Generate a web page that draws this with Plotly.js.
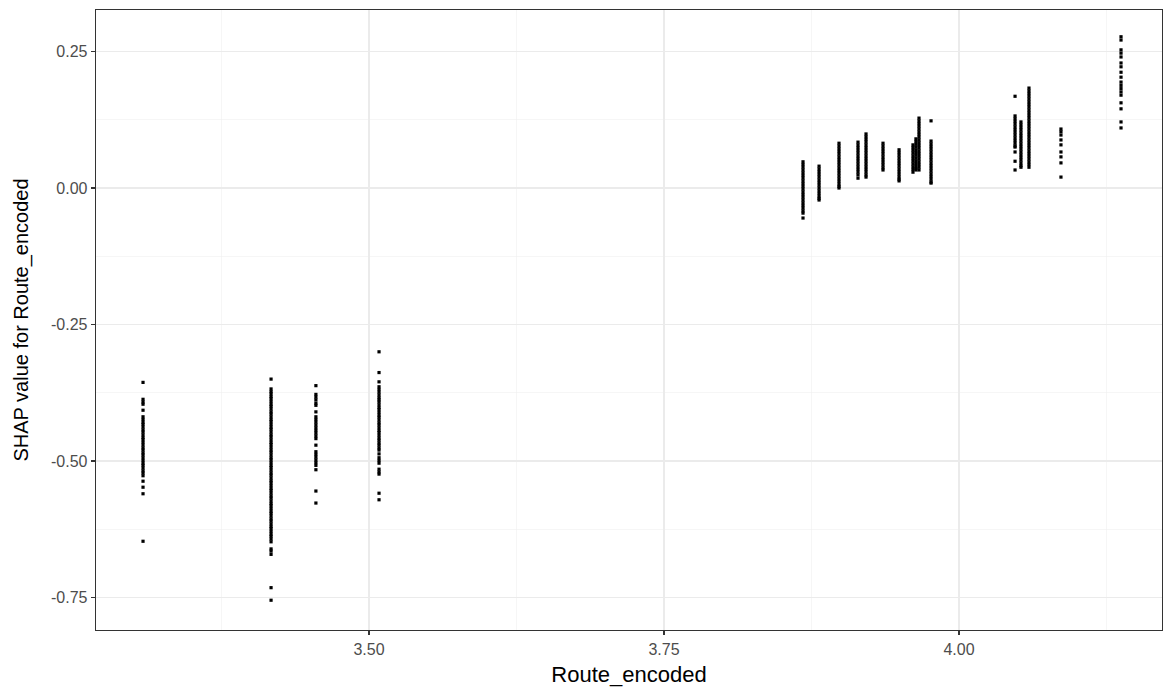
<!DOCTYPE html>
<html>
<head>
<meta charset="utf-8">
<script src="https://cdn.plot.ly/plotly-3.0.1.min.js"></script>
<style>
  html, body { margin: 0; padding: 0; background: #ffffff; }
  #chart { width: 1163px; height: 691px; }
</style>
</head>
<body>
<div id="chart"></div>
<script>
// Encoded route levels (one column of SHAP values per level)
const routeLevels = [3.3085, 3.417, 3.455, 3.5085, 3.8678, 3.8814, 3.8983, 3.9144, 3.9212,
  3.9356, 3.9492, 3.961, 3.9635, 3.9661, 3.9763, 4.0475, 4.0525, 4.0593, 4.0864, 4.1373];

// SHAP values for Route_encoded at each level
const shap3308 = [-0.356, -0.387, -0.392, -0.396, -0.407, -0.419, -0.424, -0.429, -0.433, -0.438,
  -0.443, -0.447, -0.452, -0.457, -0.461, -0.466, -0.471, -0.476, -0.480, -0.485, -0.489, -0.494,
  -0.499, -0.504, -0.508, -0.513, -0.518, -0.522, -0.527, -0.537, -0.548, -0.560, -0.647];
const shap3417 = [-0.350, -0.368, -0.373, -0.377, -0.382, -0.386, -0.391, -0.396, -0.400, -0.405,
  -0.410, -0.414, -0.419, -0.424, -0.428, -0.433, -0.438, -0.442, -0.447, -0.452, -0.456, -0.461,
  -0.466, -0.470, -0.475, -0.480, -0.484, -0.489, -0.494, -0.498, -0.503, -0.508, -0.512, -0.517,
  -0.522, -0.526, -0.531, -0.536, -0.540, -0.545, -0.550, -0.554, -0.559, -0.564, -0.568, -0.573,
  -0.578, -0.582, -0.587, -0.592, -0.596, -0.601, -0.606, -0.610, -0.615, -0.620, -0.624, -0.629,
  -0.634, -0.638, -0.643, -0.648, -0.661, -0.665, -0.671, -0.732, -0.755];
const shap3455 = [-0.362, -0.378, -0.383, -0.388, -0.394, -0.398, -0.410, -0.419, -0.424, -0.429,
  -0.434, -0.439, -0.444, -0.449, -0.454, -0.459, -0.471, -0.483, -0.488, -0.493, -0.498, -0.503,
  -0.508, -0.516, -0.555, -0.577];
const shap3508 = [-0.300, -0.338, -0.355, -0.364, -0.369, -0.374, -0.379, -0.384, -0.388, -0.392,
  -0.397, -0.402, -0.406, -0.411, -0.416, -0.420, -0.425, -0.430, -0.434, -0.439, -0.444, -0.448,
  -0.453, -0.458, -0.462, -0.467, -0.471, -0.476, -0.480, -0.487, -0.494, -0.499, -0.504, -0.515,
  -0.520, -0.524, -0.559, -0.571];
const shap3868 = [0.048, 0.043, 0.038, 0.033, 0.028, 0.023, 0.018, 0.013, 0.008, 0.003, -0.002,
  -0.007, -0.012, -0.017, -0.022, -0.027, -0.032, -0.037, -0.042, -0.046, -0.055];
const shap3881 = [0.040, 0.035, 0.030, 0.025, 0.020, 0.015, 0.010, 0.005, 0.000, -0.005, -0.010,
  -0.015, -0.019, -0.022];
const shap3898 = [0.082, 0.077, 0.072, 0.067, 0.062, 0.057, 0.052, 0.047, 0.042, 0.037, 0.032,
  0.027, 0.022, 0.017, 0.012, 0.007, 0.003, 0.000];
const shap3914 = [0.084, 0.079, 0.074, 0.069, 0.064, 0.059, 0.054, 0.049, 0.044, 0.039, 0.034,
  0.029, 0.024, 0.018];
const shap3921 = [0.099, 0.094, 0.089, 0.084, 0.079, 0.074, 0.069, 0.064, 0.059, 0.054, 0.049,
  0.044, 0.039, 0.034, 0.029, 0.024, 0.020];
const shap3936 = [0.082, 0.077, 0.072, 0.067, 0.062, 0.057, 0.052, 0.047, 0.042, 0.037, 0.033];
const shap3949 = [0.070, 0.065, 0.060, 0.055, 0.050, 0.045, 0.040, 0.035, 0.030, 0.025, 0.020,
  0.016, 0.013];
const shap3961 = [0.079, 0.074, 0.069, 0.064, 0.059, 0.054, 0.049, 0.044, 0.039, 0.034, 0.029];
const shap3964 = [0.090, 0.085, 0.080, 0.075, 0.070, 0.065, 0.060, 0.055, 0.050, 0.045, 0.040,
  0.036, 0.033];
const shap3966 = [0.128, 0.123, 0.118, 0.113, 0.108, 0.103, 0.098, 0.093, 0.088, 0.083, 0.078,
  0.073, 0.068, 0.063, 0.058, 0.053, 0.048, 0.043, 0.038, 0.033];
const shap3976 = [0.123, 0.086, 0.081, 0.076, 0.071, 0.066, 0.061, 0.056, 0.051, 0.046, 0.041,
  0.036, 0.031, 0.026, 0.021, 0.016, 0.011, 0.009];
const shap4048 = [0.168, 0.132, 0.127, 0.122, 0.117, 0.112, 0.107, 0.102, 0.097, 0.092, 0.087,
  0.082, 0.077, 0.075, 0.066, 0.049, 0.033];
const shap4053 = [0.121, 0.116, 0.111, 0.106, 0.101, 0.096, 0.091, 0.086, 0.081, 0.076, 0.071,
  0.066, 0.061, 0.056, 0.051, 0.046, 0.041, 0.038];
const shap4059 = [0.183, 0.178, 0.173, 0.168, 0.163, 0.158, 0.153, 0.148, 0.143, 0.138, 0.133,
  0.128, 0.123, 0.118, 0.113, 0.108, 0.103, 0.098, 0.093, 0.088, 0.083, 0.078, 0.073, 0.068,
  0.063, 0.058, 0.053, 0.048, 0.043, 0.038];
const shap4086 = [0.108, 0.103, 0.097, 0.088, 0.079, 0.066, 0.057, 0.046, 0.020];
const shap4137 = [0.277, 0.271, 0.253, 0.247, 0.240, 0.229, 0.222, 0.212, 0.203, 0.194, 0.188,
  0.182, 0.176, 0.170, 0.156, 0.145, 0.121, 0.110];

const shapColumns = [shap3308, shap3417, shap3455, shap3508, shap3868, shap3881, shap3898,
  shap3914, shap3921, shap3936, shap3949, shap3961, shap3964, shap3966, shap3976, shap4048,
  shap4053, shap4059, shap4086, shap4137];

// Axis ticks
const xTickVals = [3.50, 3.75, 4.00];
const xTickText = ['3.50', '3.75', '4.00'];
const xMinorVals = [3.375, 3.625, 3.875, 4.125];
const yTickVals = [0.25, 0.00, -0.25, -0.50, -0.75];
const yTickText = ['0.25', '0.00', '-0.25', '-0.50', '-0.75'];
const yMinorVals = [0.125, -0.125, -0.375, -0.625];

// Flatten into one point cloud
const xs = [], ys = [];
routeLevels.forEach((lvl, i) => {
  shapColumns[i].forEach(v => { xs.push(lvl); ys.push(v); });
});

const trace = {
  type: 'scatter',
  mode: 'markers',
  x: xs,
  y: ys,
  marker: { symbol: 'square', size: 3.2, color: '#000000', line: { width: 0 } },
  hoverinfo: 'x+y'
};

const FONT = 'Liberation Sans, Arial, sans-serif';

const axisCommon = {
  showline: true,
  mirror: true,
  linecolor: '#333333',
  linewidth: 1.3,
  ticks: 'outside',
  ticklen: 4,
  tickwidth: 1.1,
  tickcolor: '#333333',
  showgrid: true,
  gridcolor: '#ebebeb',
  gridwidth: 1.1,
  zeroline: false,
  tickfont: { family: FONT, size: 16, color: '#4d4d4d' }
};

const layout = {
  width: 1163,
  height: 691,
  margin: { l: 96, r: 1, t: 10, b: 61 },
  paper_bgcolor: '#ffffff',
  plot_bgcolor: '#ffffff',
  showlegend: false,
  xaxis: Object.assign({}, axisCommon, {
    range: [3.26864, 4.17203],
    tickmode: 'array',
    tickvals: xTickVals,
    ticktext: xTickText,
    minor: { tickmode: 'array', tickvals: xMinorVals, showgrid: true, gridcolor: '#f0f0f0', gridwidth: 0.6, ticks: '' },
    title: { text: 'Route_encoded', font: { family: FONT, size: 22, color: '#000000' }, standoff: 10 }
  }),
  yaxis: Object.assign({}, axisCommon, {
    range: [-0.80952, 0.32601],
    tickmode: 'array',
    tickvals: yTickVals,
    ticktext: yTickText,
    minor: { tickmode: 'array', tickvals: yMinorVals, showgrid: true, gridcolor: '#f0f0f0', gridwidth: 0.6, ticks: '' },
    title: { text: 'SHAP value for Route_encoded', font: { family: FONT, size: 20, color: '#000000' }, standoff: 17 }
  })
};

Plotly.newPlot('chart', [trace], layout, { displayModeBar: false, staticPlot: true });
</script>
</body>
</html>
